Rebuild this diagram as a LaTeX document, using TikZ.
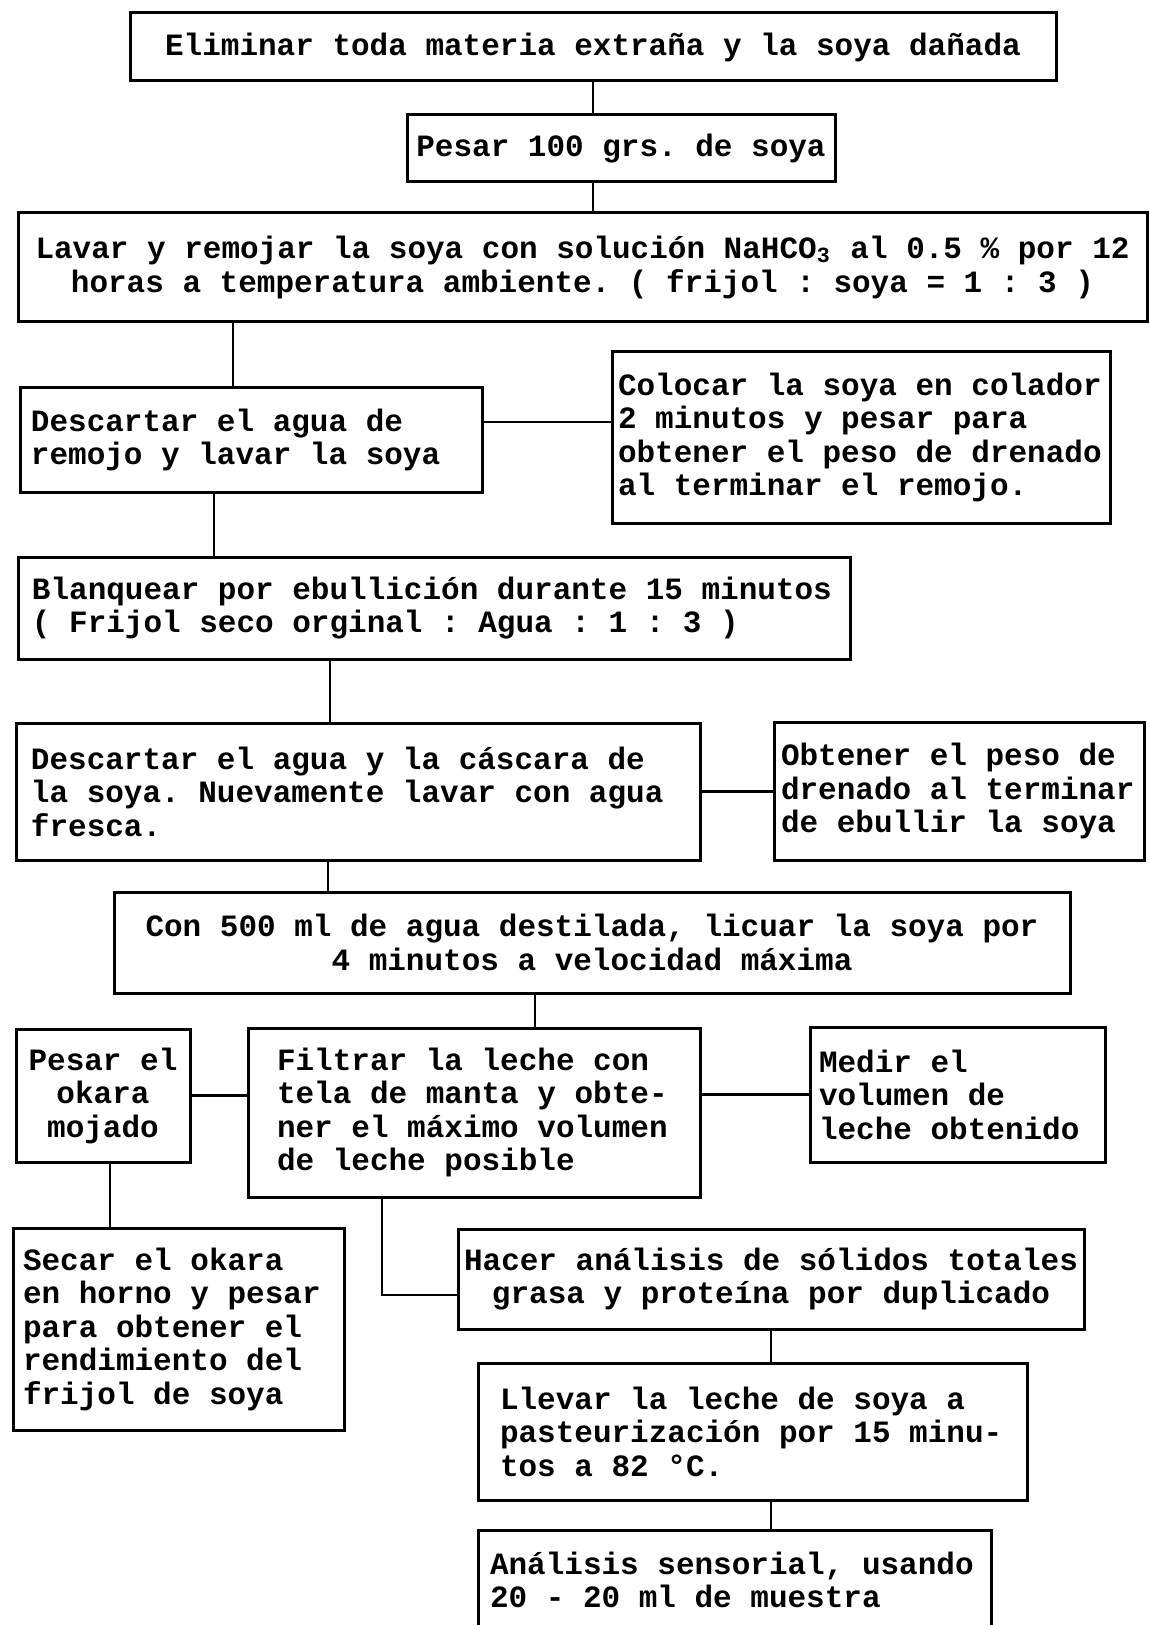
\documentclass[tikz,border=0pt]{standalone}
\usepackage{fontspec}
\setmonofont{Liberation Mono}
\usepackage{tikz}
\usetikzlibrary{positioning}

\begin{document}
\begin{tikzpicture}[
    x=0.25pt, y=-0.25pt,
    box/.style={draw, line width=0.75pt, inner ysep=0pt,
        font=\ttfamily\bfseries\fontsize{7.75}{8.375}\selectfont},
    midbox/.style={box, align=center, inner xsep=1pt},
    leftbox/.style={box, align=flush left},
    link/.style={line width=0.6pt},
]
\useasboundingbox (0,0) rectangle (1149,1625);

% Main column
\node[midbox, minimum width=231.5pt, minimum height=17pt] (elim) at (593,47)
    {Eliminar toda materia extraña y la soya dañada};
\node[midbox, minimum width=107pt, minimum height=16.75pt] (pesar) at (621,148.5)
    {Pesar 100 grs. de soya};
\node[midbox, minimum width=282.25pt, minimum height=27.25pt] (lavar) at (582.5,267.5)
    {Lavar y remojar la soya con solución NaHCO\textsubscript{3} al 0.5 \% por 12\\
     horas a temperatura ambiente. ( frijol : soya = 1 : 3 )};
\node[leftbox, text width=110pt, inner xsep=2.75pt, minimum height=26pt] (desc1) at (251,440)
    {Descartar el agua de\\ remojo y lavar la soya};
\node[leftbox, text width=201pt, inner xsep=3.5pt, minimum height=25.5pt] (blanq) at (434,608)
    {Blanquear por ebullición durante 15 minutos\\ ( Frijol seco orginal : Agua : 1 : 3 )};
\node[leftbox, text width=163.5pt, inner xsep=3.75pt, minimum height=34.25pt] (desc2) at (358,791.5)
    {Descartar el agua y la cáscara de\\ la soya. Nuevamente lavar con agua\\ fresca.};
\node[midbox, minimum width=239pt, minimum height=25.25pt] (licuar) at (592,942.5)
    {Con 500 ml de agua destilada, licuar la soya por\\ 4 minutos a velocidad máxima};
\node[leftbox, text width=98.5pt, inner xsep=7.25pt, minimum height=42.25pt] (filtrar) at (474,1112.5)
    {Filtrar la leche con\\ tela de manta y obte-\\ ner el máximo volumen\\ de leche posible};

% Side boxes
\node[leftbox, text width=121.5pt, inner xsep=1.5pt, minimum height=42.75pt] (colocar) at (861,437.5)
    {Colocar la soya en colador\\ 2 minutos y pesar para\\ obtener el peso de drenado\\ al terminar el remojo.};
\node[leftbox, text width=89pt, inner xsep=1.75pt, minimum height=34.5pt] (obten) at (959,791)
    {Obtener el peso de\\ drenado al terminar\\ de ebullir la soya};
\node[midbox, minimum width=43.5pt, minimum height=33.25pt] (okara) at (103,1095.5)
    {Pesar el\\ okara\\ mojado};
\node[leftbox, text width=69.25pt, inner xsep=2.25pt, minimum height=33.75pt] (medir) at (957.5,1094.5)
    {Medir el\\ volumen de\\ leche obtenido};
\node[leftbox, text width=77.75pt, inner xsep=2.5pt, minimum height=50.5pt] (secar) at (178.5,1329)
    {Secar el okara\\ en horno y pesar\\ para obtener el\\ rendimiento del\\ frijol de soya};

% Lower column
\node[midbox, minimum width=156.5pt, minimum height=25pt] (hacer) at (771,1279)
    {Hacer análisis de sólidos totales\\ grasa y proteína por duplicado};
\node[leftbox, text width=126.25pt, inner xsep=5.5pt, minimum height=34.25pt] (llevar) at (752.5,1431.5)
    {Llevar la leche de soya a\\ pasteurización por 15 minu-\\ tos a 82 °C.};
\node[leftbox, text width=122.25pt, inner xsep=3pt, minimum height=25pt] (analisis) at (734.5,1580)
    {Análisis sensorial, usando\\ 20 - 20 ml de muestra};

% Connectors
\coordinate (c1) at ([shift={(-18,0)}]desc1.north);
\coordinate (c2) at ([shift={(-37,0)}]desc1.south);
\coordinate (c3) at ([shift={(0,-18)}]desc1.east);
\coordinate (c4) at ([shift={(-104,0)}]blanq.south);
\coordinate (c5) at ([shift={(-30,0)}]desc2.south);
\coordinate (c6) at ([shift={(-57,0)}]licuar.south);
\coordinate (c7) at ([shift={(7,0)}]okara.south);
\coordinate (c8) at ([shift={(-92,0)}]filtrar.south);
\coordinate (c9) at ([shift={(0,16)}]hacer.west);

\draw[link] (elim.south) -- (elim.south |- pesar.north);
\draw[link] (elim.south |- pesar.south) -- (elim.south |- lavar.north);
\draw[link] (c1) -- (c1 |- lavar.south);
\draw[link] (c3) -- (c3 -| colocar.west);
\draw[link] (c2) -- (c2 |- blanq.north);
\draw[link] (c4) -- (c4 |- desc2.north);
\draw[link] (desc2.east) -- (desc2.east -| obten.west);
\draw[link] (c5) -- (c5 |- licuar.north);
\draw[link] (c6) -- (c6 |- filtrar.north);
\draw[link] (okara.east) -- (okara.east -| filtrar.west);
\draw[link] (medir.west) -- (medir.west -| filtrar.east);
\draw[link] (c7) -- (c7 |- secar.north);
\draw[link] (c8) |- (c9);
\draw[link] (hacer.south) -- (hacer.south |- llevar.north);
\draw[link] (hacer.south |- llevar.south) -- (hacer.south |- analisis.north);

\end{tikzpicture}
\end{document}
